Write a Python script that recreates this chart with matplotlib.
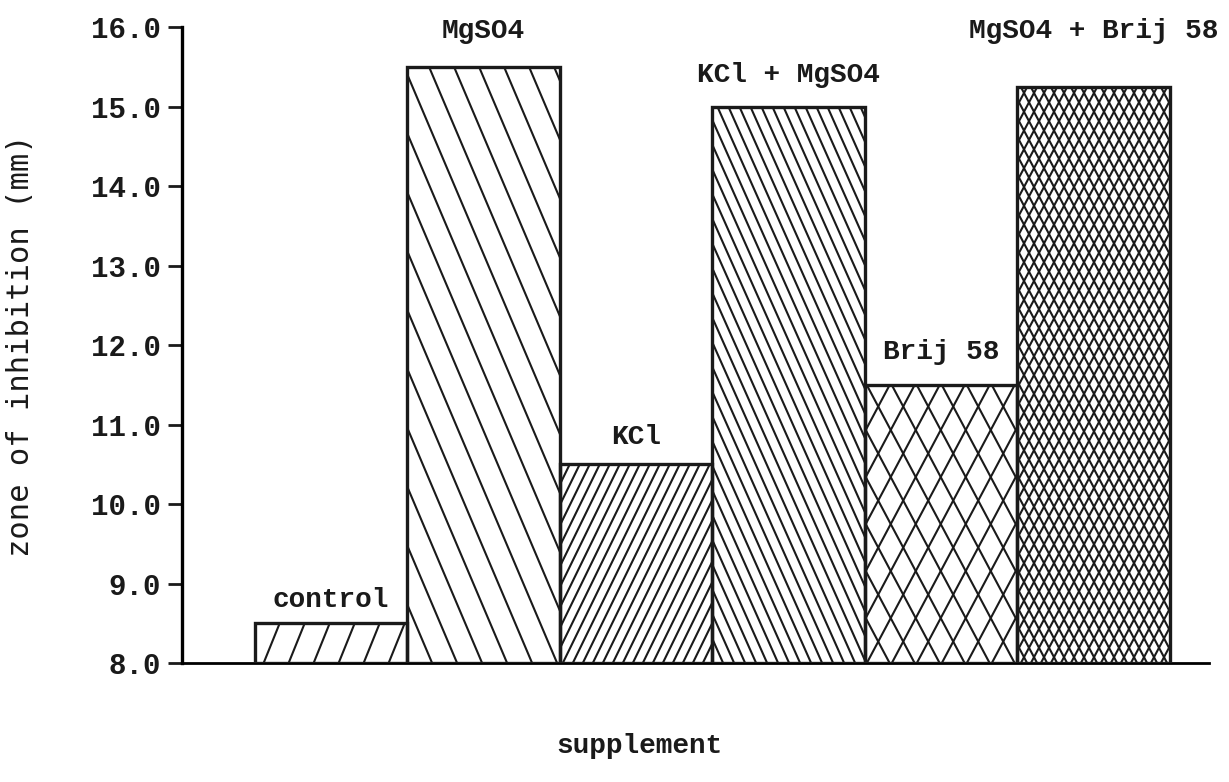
"""
plot.py

bar chart of zone of inhibition for each medium supplement,
hatched bars in the style of an old dot-matrix plot.
"""

import numpy as np
import matplotlib
matplotlib.use('Agg')
import matplotlib.pyplot as plt
from matplotlib.lines import Line2D

supplements = ['control', 'MgSO4', 'KCl', 'KCl + MgSO4', 'Brij 58', 'MgSO4 + Brij 58']
zone_mm = [8.5, 15.5, 10.5, 15.0, 11.5, 15.25]
y_ticks = [8.0, 9.0, 10.0, 11.0, 12.0, 13.0, 14.0, 15.0, 16.0]

# hatch per bar: (angle from horizontal in degrees, spacing in px, directions)
HATCHES = [
    (68, 25, ['/']),
    (67, 25, ['\\']),
    (64, 10, ['/']),
    (66, 11, ['\\']),
    (62, 25, ['/', '\\']),
    (62, 10, ['/', '\\']),
]

# label centre height above each bar top, in data units
LABEL_OFFSETS = [0.29, 0.46, 0.34, 0.40, 0.41, 0.71]

MONO = ['Liberation Mono', 'DejaVu Sans Mono']
INK = '#1a1a1a'


def hatch_bar(ax, bar, angle, spacing, directions):
    """Draw slanted hatch lines (in pixel space) clipped to a bar."""
    x0, y0 = bar.get_x(), bar.get_y()
    x1, y1 = x0 + bar.get_width(), y0 + bar.get_height()
    (px0, py0), (px1, py1) = ax.transData.transform([(x0, y0), (x1, y1)])
    h = py1 - py0
    run = h / np.tan(np.radians(angle))
    inv = ax.transData.inverted()
    for d in directions:
        starts = np.arange(px0 - run - spacing, px1 + run + spacing, spacing)
        for s in starts:
            if d == '/':
                pts = [(s, py0), (s + run, py1)]
            else:
                pts = [(s + run, py0), (s, py1)]
            (dx0, dy0), (dx1, dy1) = inv.transform(pts)
            ln = Line2D([dx0, dx1], [dy0, dy1], color=INK, lw=1.5, zorder=2)
            ax.add_line(ln)
            ln.set_clip_path(bar.get_path(), bar.get_transform())


fig = plt.figure(figsize=(12.29, 7.82), dpi=100)
ax = fig.add_axes([0.148, 0.152, 0.836, 0.813])

x = np.arange(len(supplements))
bars = ax.bar(x, [v - 8.0 for v in zone_mm], bottom=8.0, width=1.0,
              color='none', edgecolor=INK, linewidth=2.4, zorder=3)

ax.set_xlim(-0.977, 5.76)
ax.set_ylim(8.0, 16.0)
fig.canvas.draw()

for b, (ang, sp, dirs) in zip(bars, HATCHES):
    hatch_bar(ax, b, ang, sp, dirs)

for xi, v, name, off in zip(x, zone_mm, supplements, LABEL_OFFSETS):
    ax.text(xi, v + off, name, ha='center', va='center', clip_on=False,
            family=MONO, fontsize=20, fontweight='bold', color=INK)

ax.spines['top'].set_visible(False)
ax.spines['right'].set_visible(False)
ax.spines['left'].set_linewidth(2.4)
ax.spines['bottom'].set_linewidth(2.0)
ax.set_xticks([])
ax.set_yticks(y_ticks)
ax.set_yticklabels([f'{t:.1f}' for t in y_ticks], family=MONO, fontsize=21,
                   fontweight='bold')
ax.tick_params(axis='y', direction='out', length=10, width=2, pad=5, colors=INK)

ax.set_ylabel('zone of inhibition (mm)', family=['DejaVu Sans Mono'], fontsize=22,
              color=INK, va='center')
ax.yaxis.set_label_coords(-0.157, 0.50)
ax.set_xlabel('supplement', family=MONO, fontsize=20, fontweight='bold',
              color=INK, va='center')
ax.xaxis.set_label_coords(0.4455, -0.13)

fig.savefig('out.png', dpi=100)
